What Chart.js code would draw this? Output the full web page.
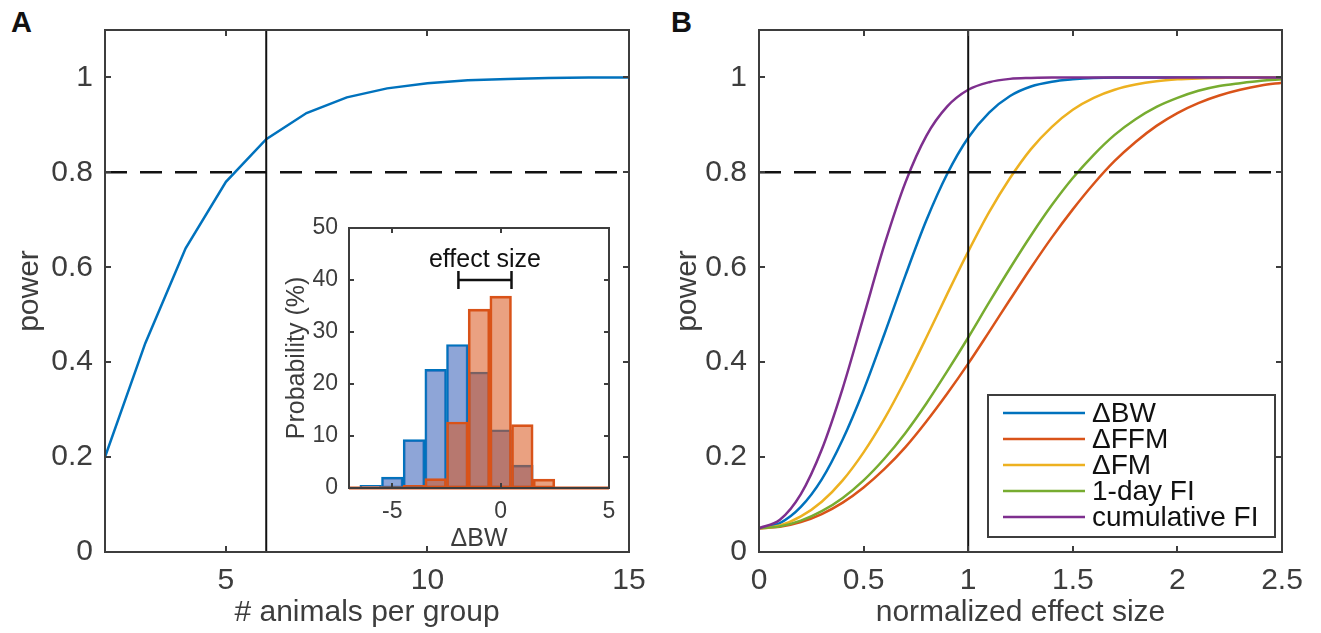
<!DOCTYPE html>
<html>
<head>
<meta charset="utf-8">
<script src="https://cdn.jsdelivr.net/npm/chart.js@4"></script>
<style>
  body { margin:0; background:#fff; width:1321px; height:633px; position:relative; overflow:hidden; font-family:"Liberation Sans", Arial, sans-serif; }
  canvas { position:absolute; }
  .panel { position:absolute; top:8px; font-size:29px; font-weight:bold; line-height:1; color:#111; }
</style>
</head>
<body>
<div class="panel" style="left:11px">A</div>
<div class="panel" style="left:671px">B</div>
<canvas id="chartA" width="660" height="633" style="left:0;top:0"></canvas>
<canvas id="inset" width="380" height="360" style="left:250px;top:200px"></canvas>
<canvas id="chartB" width="661" height="633" style="left:660px;top:0"></canvas>
<script>
// panel A: power vs group size
const animals = [2, 3, 4, 5, 6, 7, 8, 9, 10, 11, 12, 13, 14, 15];
const powerA = [0.2, 0.44, 0.64, 0.78, 0.87, 0.925, 0.958, 0.977, 0.988, 0.994, 0.997, 0.999, 1.0, 1.0];
const ticksA = [5, 10, 15];
const chosenN = 6;

// panel B: power vs normalized effect size
const effect = [0, 0.1, 0.2, 0.3, 0.4, 0.5, 0.6, 0.7, 0.8, 0.9, 1.0, 1.1, 1.2, 1.3, 1.4, 1.5, 1.6, 1.7, 1.8, 1.9, 2.0, 2.1, 2.2, 2.3, 2.4, 2.5];
const powerBW = [0.05, 0.061, 0.095, 0.153, 0.237, 0.341, 0.460, 0.583, 0.699, 0.797, 0.873, 0.926, 0.961, 0.981, 0.991, 0.996, 0.999, 1, 1, 1, 1, 1, 1, 1, 1, 1];
const powerFFM = [0.05, 0.053, 0.063, 0.080, 0.104, 0.136, 0.175, 0.221, 0.275, 0.334, 0.397, 0.464, 0.532, 0.599, 0.663, 0.722, 0.776, 0.824, 0.864, 0.898, 0.925, 0.946, 0.962, 0.974, 0.983, 0.989];
const powerFM = [0.05, 0.056, 0.075, 0.106, 0.151, 0.210, 0.281, 0.363, 0.452, 0.544, 0.633, 0.716, 0.788, 0.849, 0.896, 0.932, 0.957, 0.974, 0.985, 0.992, 0.996, 0.998, 0.999, 1, 1, 1];
const powerFI1 = [0.05, 0.054, 0.066, 0.086, 0.114, 0.151, 0.197, 0.251, 0.313, 0.381, 0.452, 0.526, 0.598, 0.667, 0.731, 0.788, 0.837, 0.879, 0.912, 0.938, 0.957, 0.972, 0.982, 0.988, 0.993, 0.996];
const powerFIcum = [0.05, 0.068, 0.122, 0.216, 0.345, 0.496, 0.648, 0.779, 0.877, 0.939, 0.974, 0.990, 0.997, 0.999, 1, 1, 1, 1, 1, 1, 1, 1, 1, 1, 1, 1];
const seriesLabels = ['ΔBW', 'ΔFFM', 'ΔFM', '1-day FI', 'cumulative FI'];
const ticksB = [0, 0.5, 1, 1.5, 2, 2.5];
const unitEffect = 1;

const powerTicks = [0, 0.2, 0.4, 0.6, 0.8, 1];
const threshold = 0.8;

// inset: histogram of delta BW
const bins = [-6, -5, -4, -3, -2, -1, 0, 1, 2, 3];
const histBW = [0.5, 2.1, 9.3, 22.8, 27.6, 22.3, 11.2, 4.4, 0.3, 0];
const histFFM = [0, 0, 0.5, 1.8, 12.7, 34.4, 36.9, 12.2, 1.7, 0];
const insetXTicks = [-5, 0, 5];
const insetYTicks = [0, 10, 20, 30, 40, 50];
const effectBar = [-1.95, 0.5];
const effectBarY = 40;

const axisColor = '#3d3d3d';
const colors = ['#0072bd', '#d95319', '#edb120', '#77ac30', '#7e2f8e'];
const FONT = "'Liberation Sans', Arial, sans-serif";
Chart.defaults.font.family = FONT;

const pts = (xs, ys) => xs.map((x, i) => ({x, y: ys[i]}));

// matlab-like box with inward ticks
const boxPlugin = {
  id: 'box',
  afterDraw(chart, args, opts) {
    const {ctx, chartArea: a, scales: {x, y}} = chart;
    const t = opts.tick || 6;
    ctx.save();
    ctx.strokeStyle = axisColor;
    ctx.lineWidth = 2;
    ctx.beginPath();
    x.ticks.forEach(tk => {
      const px = Math.round(x.getPixelForValue(tk.value));
      ctx.moveTo(px, a.bottom); ctx.lineTo(px, a.bottom - t);
      ctx.moveTo(px, a.top); ctx.lineTo(px, a.top + t);
    });
    y.ticks.forEach(tk => {
      const py = Math.round(y.getPixelForValue(tk.value));
      ctx.moveTo(a.left, py); ctx.lineTo(a.left + t, py);
      ctx.moveTo(a.right, py); ctx.lineTo(a.right - t, py);
    });
    ctx.stroke();
    ctx.strokeRect(a.left, a.top, a.right - a.left, a.bottom - a.top);
    ctx.restore();
  }
};

function axisOpts(min, max, ticks, fit, title, tickFont, tickPad, titleFont, titlePad) {
  return {
    type: 'linear', min, max,
    afterFit: fit,
    afterBuildTicks(s) { s.ticks = ticks.map(v => ({value: v})); },
    grid: {display: false, drawTicks: false},
    border: {display: false},
    ticks: {color: axisColor, font: {size: tickFont}, padding: tickPad, autoSkip: false, maxRotation: 0, callback: v => String(v)},
    title: {display: true, text: title, color: axisColor, font: {size: titleFont}, padding: titlePad}
  };
}

const common = {
  responsive: false, animation: false, devicePixelRatio: 1,
  plugins: {legend: {display: false}, tooltip: {enabled: false}}
};

// ---- panel A
new Chart(document.getElementById('chartA'), {
  type: 'line',
  data: {datasets: [
    {data: pts(animals, powerA), borderColor: colors[0], borderWidth: 2.5, pointRadius: 0, order: 1},
    {data: [{x: chosenN, y: 0}, {x: chosenN, y: 1.1}], borderColor: '#111', borderWidth: 2, pointRadius: 0, order: 0},
    {data: [{x: 2, y: threshold}, {x: 15, y: threshold}], borderColor: '#111', borderWidth: 2.5, borderDash: [22, 13], pointRadius: 0, order: 0}
  ]},
  options: {
    ...common,
    layout: {padding: {left: 0, right: 31, top: 29, bottom: 0}},
    plugins: {...common.plugins, box: {tick: 6}},
    scales: {
      x: axisOpts(2, 15, ticksA, s => { s.height = 81; }, '# animals per group', 30, 11, 30, {top: 0, bottom: 2}),
      y: axisOpts(0, 1.1, powerTicks, s => { s.width = 105; }, 'power', 30, 12, 30, {top: 12, bottom: 0})
    }
  },
  plugins: [boxPlugin]
});

// ---- inset histogram
const insetExtras = {
  id: 'insetExtras',
  beforeDatasetsDraw(chart) {
    const {ctx, chartArea: a} = chart;
    ctx.save();
    ctx.fillStyle = '#fff';
    ctx.fillRect(a.left, a.top, a.right - a.left, a.bottom - a.top);
    ctx.restore();
  },
  afterDraw(chart) {
    const {ctx, chartArea: a, scales: {x, y}} = chart;
    ctx.save();
    // zero-count bins of the FFM histogram
    ctx.strokeStyle = colors[1];
    ctx.lineWidth = 3;
    ctx.beginPath();
    ctx.moveTo(a.left, a.bottom); ctx.lineTo(a.right, a.bottom);
    ctx.stroke();
    // effect size bracket
    const x0 = x.getPixelForValue(effectBar[0]);
    const x1 = x.getPixelForValue(effectBar[1]);
    const yb = y.getPixelForValue(effectBarY);
    ctx.strokeStyle = '#111';
    ctx.lineWidth = 2.5;
    ctx.beginPath();
    ctx.moveTo(x0, yb); ctx.lineTo(x1, yb);
    ctx.moveTo(x0, yb - 9); ctx.lineTo(x0, yb + 9);
    ctx.moveTo(x1, yb - 9); ctx.lineTo(x1, yb + 9);
    ctx.stroke();
    ctx.fillStyle = '#111';
    ctx.font = '25px ' + FONT;
    ctx.textAlign = 'center';
    ctx.textBaseline = 'alphabetic';
    ctx.fillText('effect size', (x0 + x1) / 2, yb - 13);
    ctx.restore();
  }
};

new Chart(document.getElementById('inset'), {
  type: 'bar',
  data: {datasets: [
    {data: pts(bins, histFFM), backgroundColor: 'rgba(217,83,25,0.55)', borderColor: colors[1], borderWidth: 2, borderSkipped: false, grouped: false, barPercentage: 1, categoryPercentage: 1, order: 0},
    {data: pts(bins, histBW), backgroundColor: 'rgba(72,110,190,0.62)', borderColor: colors[0], borderWidth: 2, borderSkipped: false, grouped: false, barPercentage: 1, categoryPercentage: 1, order: 1}
  ]},
  options: {
    ...common,
    layout: {padding: {left: 0, right: 21, top: 28, bottom: 0}},
    plugins: {...common.plugins, box: {tick: 5}},
    scales: {
      x: {...axisOpts(-7, 5, insetXTicks, s => { s.height = 72; }, 'ΔBW', 23, 10, 25, {top: 0, bottom: 6}), offset: false},
      y: axisOpts(0, 50, insetYTicks, s => { s.width = 99; }, 'Probability (%)', 23, 11, 25, {top: 32, bottom: 0})
    }
  },
  plugins: [insetExtras, boxPlugin]
});

// ---- panel B
const legendPlugin = {
  id: 'boxLegend',
  afterDatasetsDraw(chart, args, o) {
    const ctx = chart.ctx;
    ctx.save();
    ctx.fillStyle = '#fff';
    ctx.fillRect(o.x, o.y, o.w, o.h);
    ctx.strokeStyle = axisColor;
    ctx.lineWidth = 2;
    ctx.strokeRect(o.x, o.y, o.w, o.h);
    ctx.font = '28px ' + FONT;
    ctx.textBaseline = 'middle';
    chart.data.datasets.forEach(ds => {
      if (ds.legendIndex === undefined) return;
      const yy = o.y + o.first + ds.legendIndex * o.step;
      ctx.strokeStyle = ds.borderColor;
      ctx.lineWidth = 2.5;
      ctx.beginPath();
      ctx.moveTo(o.x + 15, yy); ctx.lineTo(o.x + 97, yy);
      ctx.stroke();
      ctx.fillStyle = '#111';
      ctx.fillText(ds.label, o.x + 104, yy + 1);
    });
    ctx.restore();
  }
};

const seriesB = [powerBW, powerFFM, powerFM, powerFI1, powerFIcum];
new Chart(document.getElementById('chartB'), {
  type: 'line',
  data: {datasets: [
    ...seriesB.map((s, i) => ({
      label: seriesLabels[i], legendIndex: i,
      data: pts(effect, s), borderColor: colors[i], borderWidth: 2.5, pointRadius: 0,
      cubicInterpolationMode: 'monotone', order: 5 - i
    })),
    {data: [{x: unitEffect, y: 0}, {x: unitEffect, y: 1.1}], borderColor: '#111', borderWidth: 2, pointRadius: 0, order: 0},
    {data: [{x: 0, y: threshold}, {x: 2.5, y: threshold}], borderColor: '#111', borderWidth: 2.5, borderDash: [22, 13], pointRadius: 0, order: 0}
  ]},
  options: {
    ...common,
    layout: {padding: {left: 0, right: 39, top: 29, bottom: 0}},
    plugins: {...common.plugins, box: {tick: 6}, boxLegend: {x: 328, y: 395, w: 287, h: 142, first: 18, step: 26}},
    scales: {
      x: axisOpts(0, 2.5, ticksB, s => { s.height = 81; }, 'normalized effect size', 30, 11, 30, {top: 0, bottom: 2}),
      y: axisOpts(0, 1.1, powerTicks, s => { s.width = 99; }, 'power', 30, 12, 30, {top: 10, bottom: 0})
    }
  },
  plugins: [legendPlugin, boxPlugin]
});
</script>
</body>
</html>
